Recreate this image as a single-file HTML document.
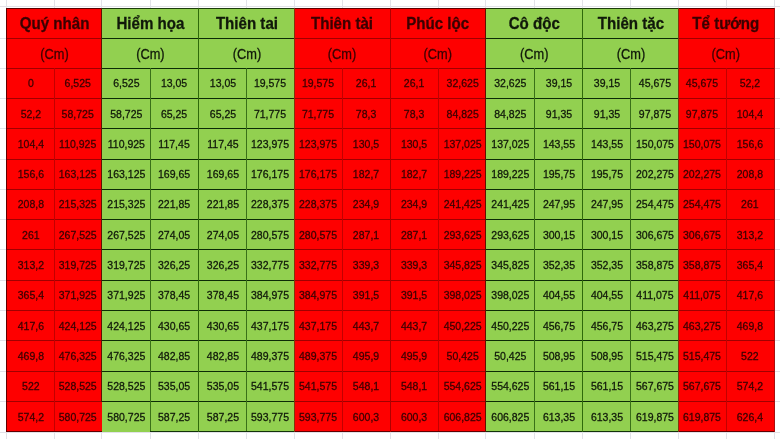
<!DOCTYPE html>
<html><head><meta charset="utf-8"><title>Bảng thước</title>
<style>
html,body{margin:0;padding:0;background:#fff;}
body{width:780px;height:439px;position:relative;overflow:hidden;font-family:"Liberation Sans",Arial,sans-serif;}
.bg{position:absolute;}
.r{background:#fe0000;}
.g{background:#92d050;}
.ln{position:absolute;}
.t{position:absolute;text-align:center;white-space:nowrap;transform:scaleX(0.915);-webkit-text-stroke:0.3px currentColor;}
.h{font-weight:bold;font-size:16.5px;line-height:30px;height:30px;}
.u{font-size:14px;line-height:30px;height:30px;}
.d{font-size:11.75px;line-height:30px;height:30px;transform:scaleX(0.895);}
.tr{color:#3a0000;}
.tg{color:#10180a;}
.gl{position:absolute;background:#e2e2e8;}
</style></head><body>

<div class="gl" style="left:6.00px;top:0;width:1px;height:439px"></div>
<div class="gl" style="left:53.80px;top:0;width:1px;height:439px"></div>
<div class="gl" style="left:101.20px;top:0;width:1px;height:439px"></div>
<div class="gl" style="left:149.90px;top:0;width:1px;height:439px"></div>
<div class="gl" style="left:198.00px;top:0;width:1px;height:439px"></div>
<div class="gl" style="left:245.90px;top:0;width:1px;height:439px"></div>
<div class="gl" style="left:293.90px;top:0;width:1px;height:439px"></div>
<div class="gl" style="left:341.90px;top:0;width:1px;height:439px"></div>
<div class="gl" style="left:389.95px;top:0;width:1px;height:439px"></div>
<div class="gl" style="left:438.10px;top:0;width:1px;height:439px"></div>
<div class="gl" style="left:485.40px;top:0;width:1px;height:439px"></div>
<div class="gl" style="left:534.00px;top:0;width:1px;height:439px"></div>
<div class="gl" style="left:582.00px;top:0;width:1px;height:439px"></div>
<div class="gl" style="left:630.00px;top:0;width:1px;height:439px"></div>
<div class="gl" style="left:677.90px;top:0;width:1px;height:439px"></div>
<div class="gl" style="left:725.80px;top:0;width:1px;height:439px"></div>
<div class="gl" style="left:773.60px;top:0;width:1px;height:439px"></div>
<div class="gl" style="left:0;top:5.5px;width:780px;height:1px"></div>
<div class="gl" style="left:0;top:37.70px;width:780px;height:1px"></div>
<div class="gl" style="left:0;top:67.60px;width:780px;height:1px"></div>
<div class="gl" style="left:0;top:97.91px;width:780px;height:1px"></div>
<div class="gl" style="left:0;top:128.22px;width:780px;height:1px"></div>
<div class="gl" style="left:0;top:158.53px;width:780px;height:1px"></div>
<div class="gl" style="left:0;top:188.84px;width:780px;height:1px"></div>
<div class="gl" style="left:0;top:219.15px;width:780px;height:1px"></div>
<div class="gl" style="left:0;top:249.46px;width:780px;height:1px"></div>
<div class="gl" style="left:0;top:279.77px;width:780px;height:1px"></div>
<div class="gl" style="left:0;top:310.08px;width:780px;height:1px"></div>
<div class="gl" style="left:0;top:340.39px;width:780px;height:1px"></div>
<div class="gl" style="left:0;top:370.70px;width:780px;height:1px"></div>
<div class="gl" style="left:0;top:401.01px;width:780px;height:1px"></div>
<div class="gl" style="left:0;top:431.50px;width:780px;height:1px"></div>
<div class="bg r" style="left:6.50px;top:7.90px;width:95.20px;height:423.90px"></div>
<div class="bg g" style="left:101.70px;top:7.90px;width:96.80px;height:423.90px"></div>
<div class="bg g" style="left:198.50px;top:7.90px;width:95.90px;height:423.90px"></div>
<div class="bg r" style="left:294.40px;top:7.90px;width:96.05px;height:423.90px"></div>
<div class="bg r" style="left:390.45px;top:7.90px;width:95.45px;height:423.90px"></div>
<div class="bg g" style="left:485.90px;top:7.90px;width:96.60px;height:423.90px"></div>
<div class="bg g" style="left:582.50px;top:7.90px;width:95.90px;height:423.90px"></div>
<div class="bg r" style="left:678.40px;top:7.90px;width:96.20px;height:423.90px"></div>
<div class="ln" style="left:6.50px;top:7.90px;width:95.20px;height:1px;background:#5a0000"></div>
<div class="ln" style="left:6.50px;top:37.70px;width:95.20px;height:1px;background:#a00000"></div>
<div class="ln" style="left:6.50px;top:67.60px;width:95.20px;height:1px;background:#a00000"></div>
<div class="ln" style="left:6.50px;top:97.91px;width:95.20px;height:1px;background:#a00000"></div>
<div class="ln" style="left:6.50px;top:128.22px;width:95.20px;height:1px;background:#a00000"></div>
<div class="ln" style="left:6.50px;top:158.53px;width:95.20px;height:1px;background:#a00000"></div>
<div class="ln" style="left:6.50px;top:188.84px;width:95.20px;height:1px;background:#a00000"></div>
<div class="ln" style="left:6.50px;top:219.15px;width:95.20px;height:1px;background:#a00000"></div>
<div class="ln" style="left:6.50px;top:249.46px;width:95.20px;height:1px;background:#a00000"></div>
<div class="ln" style="left:6.50px;top:279.77px;width:95.20px;height:1px;background:#a00000"></div>
<div class="ln" style="left:6.50px;top:310.08px;width:95.20px;height:1px;background:#a00000"></div>
<div class="ln" style="left:6.50px;top:340.39px;width:95.20px;height:1px;background:#a00000"></div>
<div class="ln" style="left:6.50px;top:370.70px;width:95.20px;height:1px;background:#a00000"></div>
<div class="ln" style="left:6.50px;top:401.01px;width:95.20px;height:1px;background:#a00000"></div>
<div class="ln" style="left:6.50px;top:430.70px;width:95.20px;height:1px;background:#600000"></div>
<div class="ln" style="left:101.70px;top:7.90px;width:96.80px;height:1px;background:#1c3c0c"></div>
<div class="ln" style="left:101.70px;top:37.70px;width:96.80px;height:1px;background:#0c2c06"></div>
<div class="ln" style="left:101.70px;top:67.60px;width:96.80px;height:1px;background:#0c2c06"></div>
<div class="ln" style="left:101.70px;top:97.91px;width:96.80px;height:1px;background:#0c2c06"></div>
<div class="ln" style="left:101.70px;top:128.22px;width:96.80px;height:1px;background:#0c2c06"></div>
<div class="ln" style="left:101.70px;top:158.53px;width:96.80px;height:1px;background:#0c2c06"></div>
<div class="ln" style="left:101.70px;top:188.84px;width:96.80px;height:1px;background:#0c2c06"></div>
<div class="ln" style="left:101.70px;top:219.15px;width:96.80px;height:1px;background:#0c2c06"></div>
<div class="ln" style="left:101.70px;top:249.46px;width:96.80px;height:1px;background:#0c2c06"></div>
<div class="ln" style="left:101.70px;top:279.77px;width:96.80px;height:1px;background:#0c2c06"></div>
<div class="ln" style="left:101.70px;top:310.08px;width:96.80px;height:1px;background:#0c2c06"></div>
<div class="ln" style="left:101.70px;top:340.39px;width:96.80px;height:1px;background:#0c2c06"></div>
<div class="ln" style="left:101.70px;top:370.70px;width:96.80px;height:1px;background:#0c2c06"></div>
<div class="ln" style="left:101.70px;top:401.01px;width:96.80px;height:1px;background:#0c2c06"></div>
<div class="ln" style="left:150.40px;top:430.70px;width:48.10px;height:1px;background:#12330a"></div>
<div class="ln" style="left:198.50px;top:7.90px;width:95.90px;height:1px;background:#1c3c0c"></div>
<div class="ln" style="left:198.50px;top:37.70px;width:95.90px;height:1px;background:#0c2c06"></div>
<div class="ln" style="left:198.50px;top:67.60px;width:95.90px;height:1px;background:#0c2c06"></div>
<div class="ln" style="left:198.50px;top:97.91px;width:95.90px;height:1px;background:#0c2c06"></div>
<div class="ln" style="left:198.50px;top:128.22px;width:95.90px;height:1px;background:#0c2c06"></div>
<div class="ln" style="left:198.50px;top:158.53px;width:95.90px;height:1px;background:#0c2c06"></div>
<div class="ln" style="left:198.50px;top:188.84px;width:95.90px;height:1px;background:#0c2c06"></div>
<div class="ln" style="left:198.50px;top:219.15px;width:95.90px;height:1px;background:#0c2c06"></div>
<div class="ln" style="left:198.50px;top:249.46px;width:95.90px;height:1px;background:#0c2c06"></div>
<div class="ln" style="left:198.50px;top:279.77px;width:95.90px;height:1px;background:#0c2c06"></div>
<div class="ln" style="left:198.50px;top:310.08px;width:95.90px;height:1px;background:#0c2c06"></div>
<div class="ln" style="left:198.50px;top:340.39px;width:95.90px;height:1px;background:#0c2c06"></div>
<div class="ln" style="left:198.50px;top:370.70px;width:95.90px;height:1px;background:#0c2c06"></div>
<div class="ln" style="left:198.50px;top:401.01px;width:95.90px;height:1px;background:#0c2c06"></div>
<div class="ln" style="left:198.50px;top:430.70px;width:95.90px;height:1px;background:#12330a"></div>
<div class="ln" style="left:294.40px;top:7.90px;width:96.05px;height:1px;background:#5a0000"></div>
<div class="ln" style="left:294.40px;top:37.70px;width:96.05px;height:1px;background:#a00000"></div>
<div class="ln" style="left:294.40px;top:67.60px;width:96.05px;height:1px;background:#a00000"></div>
<div class="ln" style="left:294.40px;top:97.91px;width:96.05px;height:1px;background:#a00000"></div>
<div class="ln" style="left:294.40px;top:128.22px;width:96.05px;height:1px;background:#a00000"></div>
<div class="ln" style="left:294.40px;top:158.53px;width:96.05px;height:1px;background:#a00000"></div>
<div class="ln" style="left:294.40px;top:188.84px;width:96.05px;height:1px;background:#a00000"></div>
<div class="ln" style="left:294.40px;top:219.15px;width:96.05px;height:1px;background:#a00000"></div>
<div class="ln" style="left:294.40px;top:249.46px;width:96.05px;height:1px;background:#a00000"></div>
<div class="ln" style="left:294.40px;top:279.77px;width:96.05px;height:1px;background:#a00000"></div>
<div class="ln" style="left:294.40px;top:310.08px;width:96.05px;height:1px;background:#a00000"></div>
<div class="ln" style="left:294.40px;top:340.39px;width:96.05px;height:1px;background:#a00000"></div>
<div class="ln" style="left:294.40px;top:370.70px;width:96.05px;height:1px;background:#a00000"></div>
<div class="ln" style="left:294.40px;top:401.01px;width:96.05px;height:1px;background:#a00000"></div>
<div class="ln" style="left:294.40px;top:430.70px;width:96.05px;height:1px;background:#600000"></div>
<div class="ln" style="left:390.45px;top:7.90px;width:95.45px;height:1px;background:#5a0000"></div>
<div class="ln" style="left:390.45px;top:37.70px;width:95.45px;height:1px;background:#a00000"></div>
<div class="ln" style="left:390.45px;top:67.60px;width:95.45px;height:1px;background:#a00000"></div>
<div class="ln" style="left:390.45px;top:97.91px;width:95.45px;height:1px;background:#a00000"></div>
<div class="ln" style="left:390.45px;top:128.22px;width:95.45px;height:1px;background:#a00000"></div>
<div class="ln" style="left:390.45px;top:158.53px;width:95.45px;height:1px;background:#a00000"></div>
<div class="ln" style="left:390.45px;top:188.84px;width:95.45px;height:1px;background:#a00000"></div>
<div class="ln" style="left:390.45px;top:219.15px;width:95.45px;height:1px;background:#a00000"></div>
<div class="ln" style="left:390.45px;top:249.46px;width:95.45px;height:1px;background:#a00000"></div>
<div class="ln" style="left:390.45px;top:279.77px;width:95.45px;height:1px;background:#a00000"></div>
<div class="ln" style="left:390.45px;top:310.08px;width:95.45px;height:1px;background:#a00000"></div>
<div class="ln" style="left:390.45px;top:340.39px;width:95.45px;height:1px;background:#a00000"></div>
<div class="ln" style="left:390.45px;top:370.70px;width:95.45px;height:1px;background:#a00000"></div>
<div class="ln" style="left:390.45px;top:401.01px;width:95.45px;height:1px;background:#a00000"></div>
<div class="ln" style="left:390.45px;top:430.70px;width:95.45px;height:1px;background:#600000"></div>
<div class="ln" style="left:485.90px;top:7.90px;width:96.60px;height:1px;background:#1c3c0c"></div>
<div class="ln" style="left:485.90px;top:37.70px;width:96.60px;height:1px;background:#0c2c06"></div>
<div class="ln" style="left:485.90px;top:67.60px;width:96.60px;height:1px;background:#0c2c06"></div>
<div class="ln" style="left:485.90px;top:97.91px;width:96.60px;height:1px;background:#0c2c06"></div>
<div class="ln" style="left:485.90px;top:128.22px;width:96.60px;height:1px;background:#0c2c06"></div>
<div class="ln" style="left:485.90px;top:158.53px;width:96.60px;height:1px;background:#0c2c06"></div>
<div class="ln" style="left:485.90px;top:188.84px;width:96.60px;height:1px;background:#0c2c06"></div>
<div class="ln" style="left:485.90px;top:219.15px;width:96.60px;height:1px;background:#0c2c06"></div>
<div class="ln" style="left:485.90px;top:249.46px;width:96.60px;height:1px;background:#0c2c06"></div>
<div class="ln" style="left:485.90px;top:279.77px;width:96.60px;height:1px;background:#0c2c06"></div>
<div class="ln" style="left:485.90px;top:310.08px;width:96.60px;height:1px;background:#0c2c06"></div>
<div class="ln" style="left:485.90px;top:340.39px;width:96.60px;height:1px;background:#0c2c06"></div>
<div class="ln" style="left:485.90px;top:370.70px;width:96.60px;height:1px;background:#0c2c06"></div>
<div class="ln" style="left:485.90px;top:401.01px;width:96.60px;height:1px;background:#0c2c06"></div>
<div class="ln" style="left:485.90px;top:430.70px;width:96.60px;height:1px;background:#12330a"></div>
<div class="ln" style="left:582.50px;top:7.90px;width:95.90px;height:1px;background:#1c3c0c"></div>
<div class="ln" style="left:582.50px;top:37.70px;width:95.90px;height:1px;background:#0c2c06"></div>
<div class="ln" style="left:582.50px;top:67.60px;width:95.90px;height:1px;background:#0c2c06"></div>
<div class="ln" style="left:582.50px;top:97.91px;width:95.90px;height:1px;background:#0c2c06"></div>
<div class="ln" style="left:582.50px;top:128.22px;width:95.90px;height:1px;background:#0c2c06"></div>
<div class="ln" style="left:582.50px;top:158.53px;width:95.90px;height:1px;background:#0c2c06"></div>
<div class="ln" style="left:582.50px;top:188.84px;width:95.90px;height:1px;background:#0c2c06"></div>
<div class="ln" style="left:582.50px;top:219.15px;width:95.90px;height:1px;background:#0c2c06"></div>
<div class="ln" style="left:582.50px;top:249.46px;width:95.90px;height:1px;background:#0c2c06"></div>
<div class="ln" style="left:582.50px;top:279.77px;width:95.90px;height:1px;background:#0c2c06"></div>
<div class="ln" style="left:582.50px;top:310.08px;width:95.90px;height:1px;background:#0c2c06"></div>
<div class="ln" style="left:582.50px;top:340.39px;width:95.90px;height:1px;background:#0c2c06"></div>
<div class="ln" style="left:582.50px;top:370.70px;width:95.90px;height:1px;background:#0c2c06"></div>
<div class="ln" style="left:582.50px;top:401.01px;width:95.90px;height:1px;background:#0c2c06"></div>
<div class="ln" style="left:582.50px;top:430.70px;width:95.90px;height:1px;background:#12330a"></div>
<div class="ln" style="left:678.40px;top:7.90px;width:95.70px;height:1px;background:#5a0000"></div>
<div class="ln" style="left:678.40px;top:37.70px;width:95.70px;height:1px;background:#a00000"></div>
<div class="ln" style="left:678.40px;top:67.60px;width:95.70px;height:1px;background:#a00000"></div>
<div class="ln" style="left:678.40px;top:97.91px;width:95.70px;height:1px;background:#a00000"></div>
<div class="ln" style="left:678.40px;top:128.22px;width:95.70px;height:1px;background:#a00000"></div>
<div class="ln" style="left:678.40px;top:158.53px;width:95.70px;height:1px;background:#a00000"></div>
<div class="ln" style="left:678.40px;top:188.84px;width:95.70px;height:1px;background:#a00000"></div>
<div class="ln" style="left:678.40px;top:219.15px;width:95.70px;height:1px;background:#a00000"></div>
<div class="ln" style="left:678.40px;top:249.46px;width:95.70px;height:1px;background:#a00000"></div>
<div class="ln" style="left:678.40px;top:279.77px;width:95.70px;height:1px;background:#a00000"></div>
<div class="ln" style="left:678.40px;top:310.08px;width:95.70px;height:1px;background:#a00000"></div>
<div class="ln" style="left:678.40px;top:340.39px;width:95.70px;height:1px;background:#a00000"></div>
<div class="ln" style="left:678.40px;top:370.70px;width:95.70px;height:1px;background:#a00000"></div>
<div class="ln" style="left:678.40px;top:401.01px;width:95.70px;height:1px;background:#a00000"></div>
<div class="ln" style="left:678.40px;top:430.70px;width:95.70px;height:1px;background:#600000"></div>
<div class="ln" style="left:6.00px;top:7.90px;width:1px;height:423.80px;background:#600000"></div>
<div class="ln" style="left:53.70px;top:68.1px;width:1.2px;height:363.10px;background:#c20000"></div>
<div class="ln" style="left:101.20px;top:7.90px;width:1px;height:394.11px;background:#601000"></div>
<div class="ln" style="left:149.80px;top:68.1px;width:1.2px;height:363.10px;background:#3a7018"></div>
<div class="ln" style="left:198.00px;top:7.90px;width:1px;height:423.80px;background:#2f6a0a"></div>
<div class="ln" style="left:245.80px;top:68.1px;width:1.2px;height:363.10px;background:#3a7018"></div>
<div class="ln" style="left:293.90px;top:7.90px;width:1px;height:423.80px;background:#80380c"></div>
<div class="ln" style="left:341.80px;top:68.1px;width:1.2px;height:363.10px;background:#c20000"></div>
<div class="ln" style="left:389.95px;top:7.90px;width:1px;height:423.80px;background:#b00000"></div>
<div class="ln" style="left:438.00px;top:68.1px;width:1.2px;height:363.10px;background:#c20000"></div>
<div class="ln" style="left:485.40px;top:7.90px;width:1px;height:423.80px;background:#601000"></div>
<div class="ln" style="left:533.90px;top:68.1px;width:1.2px;height:363.10px;background:#3a7018"></div>
<div class="ln" style="left:582.00px;top:7.90px;width:1px;height:423.80px;background:#2f6a0a"></div>
<div class="ln" style="left:629.90px;top:68.1px;width:1.2px;height:363.10px;background:#3a7018"></div>
<div class="ln" style="left:677.90px;top:7.90px;width:1px;height:423.80px;background:#80380c"></div>
<div class="ln" style="left:725.70px;top:68.1px;width:1.2px;height:363.10px;background:#c20000"></div>
<div class="ln" style="left:773.60px;top:7.90px;width:1px;height:423.80px;background:#a81010"></div>
<div class="t h tr" style="left:6.50px;top:8px;width:95.20px">Quý nhân</div>
<div class="t u tr" style="left:6.50px;top:39px;width:95.20px">(Cm)</div>
<div class="t d tr" style="left:6.50px;top:68px;width:47.80px">0</div>
<div class="t d tr" style="left:54.30px;top:68px;width:47.40px">6,525</div>
<div class="t d tr" style="left:6.50px;top:99px;width:47.80px">52,2</div>
<div class="t d tr" style="left:54.30px;top:99px;width:47.40px">58,725</div>
<div class="t d tr" style="left:6.50px;top:129px;width:47.80px">104,4</div>
<div class="t d tr" style="left:54.30px;top:129px;width:47.40px">110,925</div>
<div class="t d tr" style="left:6.50px;top:159px;width:47.80px">156,6</div>
<div class="t d tr" style="left:54.30px;top:159px;width:47.40px">163,125</div>
<div class="t d tr" style="left:6.50px;top:189px;width:47.80px">208,8</div>
<div class="t d tr" style="left:54.30px;top:189px;width:47.40px">215,325</div>
<div class="t d tr" style="left:6.50px;top:220px;width:47.80px">261</div>
<div class="t d tr" style="left:54.30px;top:220px;width:47.40px">267,525</div>
<div class="t d tr" style="left:6.50px;top:250px;width:47.80px">313,2</div>
<div class="t d tr" style="left:54.30px;top:250px;width:47.40px">319,725</div>
<div class="t d tr" style="left:6.50px;top:280px;width:47.80px">365,4</div>
<div class="t d tr" style="left:54.30px;top:280px;width:47.40px">371,925</div>
<div class="t d tr" style="left:6.50px;top:311px;width:47.80px">417,6</div>
<div class="t d tr" style="left:54.30px;top:311px;width:47.40px">424,125</div>
<div class="t d tr" style="left:6.50px;top:341px;width:47.80px">469,8</div>
<div class="t d tr" style="left:54.30px;top:341px;width:47.40px">476,325</div>
<div class="t d tr" style="left:6.50px;top:371px;width:47.80px">522</div>
<div class="t d tr" style="left:54.30px;top:371px;width:47.40px">528,525</div>
<div class="t d tr" style="left:6.50px;top:402px;width:47.80px">574,2</div>
<div class="t d tr" style="left:54.30px;top:402px;width:47.40px">580,725</div>
<div class="t h tg" style="left:101.70px;top:8px;width:96.80px">Hiểm họa</div>
<div class="t u tg" style="left:101.70px;top:39px;width:96.80px">(Cm)</div>
<div class="t d tg" style="left:101.70px;top:68px;width:48.70px">6,525</div>
<div class="t d tg" style="left:150.40px;top:68px;width:48.10px">13,05</div>
<div class="t d tg" style="left:101.70px;top:99px;width:48.70px">58,725</div>
<div class="t d tg" style="left:150.40px;top:99px;width:48.10px">65,25</div>
<div class="t d tg" style="left:101.70px;top:129px;width:48.70px">110,925</div>
<div class="t d tg" style="left:150.40px;top:129px;width:48.10px">117,45</div>
<div class="t d tg" style="left:101.70px;top:159px;width:48.70px">163,125</div>
<div class="t d tg" style="left:150.40px;top:159px;width:48.10px">169,65</div>
<div class="t d tg" style="left:101.70px;top:189px;width:48.70px">215,325</div>
<div class="t d tg" style="left:150.40px;top:189px;width:48.10px">221,85</div>
<div class="t d tg" style="left:101.70px;top:220px;width:48.70px">267,525</div>
<div class="t d tg" style="left:150.40px;top:220px;width:48.10px">274,05</div>
<div class="t d tg" style="left:101.70px;top:250px;width:48.70px">319,725</div>
<div class="t d tg" style="left:150.40px;top:250px;width:48.10px">326,25</div>
<div class="t d tg" style="left:101.70px;top:280px;width:48.70px">371,925</div>
<div class="t d tg" style="left:150.40px;top:280px;width:48.10px">378,45</div>
<div class="t d tg" style="left:101.70px;top:311px;width:48.70px">424,125</div>
<div class="t d tg" style="left:150.40px;top:311px;width:48.10px">430,65</div>
<div class="t d tg" style="left:101.70px;top:341px;width:48.70px">476,325</div>
<div class="t d tg" style="left:150.40px;top:341px;width:48.10px">482,85</div>
<div class="t d tg" style="left:101.70px;top:371px;width:48.70px">528,525</div>
<div class="t d tg" style="left:150.40px;top:371px;width:48.10px">535,05</div>
<div class="t d tg" style="left:101.70px;top:402px;width:48.70px">580,725</div>
<div class="t d tg" style="left:150.40px;top:402px;width:48.10px">587,25</div>
<div class="t h tg" style="left:198.50px;top:8px;width:95.90px">Thiên tai</div>
<div class="t u tg" style="left:198.50px;top:39px;width:95.90px">(Cm)</div>
<div class="t d tg" style="left:198.50px;top:68px;width:47.90px">13,05</div>
<div class="t d tg" style="left:246.40px;top:68px;width:48.00px">19,575</div>
<div class="t d tg" style="left:198.50px;top:99px;width:47.90px">65,25</div>
<div class="t d tg" style="left:246.40px;top:99px;width:48.00px">71,775</div>
<div class="t d tg" style="left:198.50px;top:129px;width:47.90px">117,45</div>
<div class="t d tg" style="left:246.40px;top:129px;width:48.00px">123,975</div>
<div class="t d tg" style="left:198.50px;top:159px;width:47.90px">169,65</div>
<div class="t d tg" style="left:246.40px;top:159px;width:48.00px">176,175</div>
<div class="t d tg" style="left:198.50px;top:189px;width:47.90px">221,85</div>
<div class="t d tg" style="left:246.40px;top:189px;width:48.00px">228,375</div>
<div class="t d tg" style="left:198.50px;top:220px;width:47.90px">274,05</div>
<div class="t d tg" style="left:246.40px;top:220px;width:48.00px">280,575</div>
<div class="t d tg" style="left:198.50px;top:250px;width:47.90px">326,25</div>
<div class="t d tg" style="left:246.40px;top:250px;width:48.00px">332,775</div>
<div class="t d tg" style="left:198.50px;top:280px;width:47.90px">378,45</div>
<div class="t d tg" style="left:246.40px;top:280px;width:48.00px">384,975</div>
<div class="t d tg" style="left:198.50px;top:311px;width:47.90px">430,65</div>
<div class="t d tg" style="left:246.40px;top:311px;width:48.00px">437,175</div>
<div class="t d tg" style="left:198.50px;top:341px;width:47.90px">482,85</div>
<div class="t d tg" style="left:246.40px;top:341px;width:48.00px">489,375</div>
<div class="t d tg" style="left:198.50px;top:371px;width:47.90px">535,05</div>
<div class="t d tg" style="left:246.40px;top:371px;width:48.00px">541,575</div>
<div class="t d tg" style="left:198.50px;top:402px;width:47.90px">587,25</div>
<div class="t d tg" style="left:246.40px;top:402px;width:48.00px">593,775</div>
<div class="t h tr" style="left:294.40px;top:8px;width:96.05px">Thiên tài</div>
<div class="t u tr" style="left:294.40px;top:39px;width:96.05px">(Cm)</div>
<div class="t d tr" style="left:294.40px;top:68px;width:48.00px">19,575</div>
<div class="t d tr" style="left:342.40px;top:68px;width:48.05px">26,1</div>
<div class="t d tr" style="left:294.40px;top:99px;width:48.00px">71,775</div>
<div class="t d tr" style="left:342.40px;top:99px;width:48.05px">78,3</div>
<div class="t d tr" style="left:294.40px;top:129px;width:48.00px">123,975</div>
<div class="t d tr" style="left:342.40px;top:129px;width:48.05px">130,5</div>
<div class="t d tr" style="left:294.40px;top:159px;width:48.00px">176,175</div>
<div class="t d tr" style="left:342.40px;top:159px;width:48.05px">182,7</div>
<div class="t d tr" style="left:294.40px;top:189px;width:48.00px">228,375</div>
<div class="t d tr" style="left:342.40px;top:189px;width:48.05px">234,9</div>
<div class="t d tr" style="left:294.40px;top:220px;width:48.00px">280,575</div>
<div class="t d tr" style="left:342.40px;top:220px;width:48.05px">287,1</div>
<div class="t d tr" style="left:294.40px;top:250px;width:48.00px">332,775</div>
<div class="t d tr" style="left:342.40px;top:250px;width:48.05px">339,3</div>
<div class="t d tr" style="left:294.40px;top:280px;width:48.00px">384,975</div>
<div class="t d tr" style="left:342.40px;top:280px;width:48.05px">391,5</div>
<div class="t d tr" style="left:294.40px;top:311px;width:48.00px">437,175</div>
<div class="t d tr" style="left:342.40px;top:311px;width:48.05px">443,7</div>
<div class="t d tr" style="left:294.40px;top:341px;width:48.00px">489,375</div>
<div class="t d tr" style="left:342.40px;top:341px;width:48.05px">495,9</div>
<div class="t d tr" style="left:294.40px;top:371px;width:48.00px">541,575</div>
<div class="t d tr" style="left:342.40px;top:371px;width:48.05px">548,1</div>
<div class="t d tr" style="left:294.40px;top:402px;width:48.00px">593,775</div>
<div class="t d tr" style="left:342.40px;top:402px;width:48.05px">600,3</div>
<div class="t h tr" style="left:390.45px;top:8px;width:95.45px">Phúc lộc</div>
<div class="t u tr" style="left:390.45px;top:39px;width:95.45px">(Cm)</div>
<div class="t d tr" style="left:390.45px;top:68px;width:48.15px">26,1</div>
<div class="t d tr" style="left:438.60px;top:68px;width:47.30px">32,625</div>
<div class="t d tr" style="left:390.45px;top:99px;width:48.15px">78,3</div>
<div class="t d tr" style="left:438.60px;top:99px;width:47.30px">84,825</div>
<div class="t d tr" style="left:390.45px;top:129px;width:48.15px">130,5</div>
<div class="t d tr" style="left:438.60px;top:129px;width:47.30px">137,025</div>
<div class="t d tr" style="left:390.45px;top:159px;width:48.15px">182,7</div>
<div class="t d tr" style="left:438.60px;top:159px;width:47.30px">189,225</div>
<div class="t d tr" style="left:390.45px;top:189px;width:48.15px">234,9</div>
<div class="t d tr" style="left:438.60px;top:189px;width:47.30px">241,425</div>
<div class="t d tr" style="left:390.45px;top:220px;width:48.15px">287,1</div>
<div class="t d tr" style="left:438.60px;top:220px;width:47.30px">293,625</div>
<div class="t d tr" style="left:390.45px;top:250px;width:48.15px">339,3</div>
<div class="t d tr" style="left:438.60px;top:250px;width:47.30px">345,825</div>
<div class="t d tr" style="left:390.45px;top:280px;width:48.15px">391,5</div>
<div class="t d tr" style="left:438.60px;top:280px;width:47.30px">398,025</div>
<div class="t d tr" style="left:390.45px;top:311px;width:48.15px">443,7</div>
<div class="t d tr" style="left:438.60px;top:311px;width:47.30px">450,225</div>
<div class="t d tr" style="left:390.45px;top:341px;width:48.15px">495,9</div>
<div class="t d tr" style="left:438.60px;top:341px;width:47.30px">50,425</div>
<div class="t d tr" style="left:390.45px;top:371px;width:48.15px">548,1</div>
<div class="t d tr" style="left:438.60px;top:371px;width:47.30px">554,625</div>
<div class="t d tr" style="left:390.45px;top:402px;width:48.15px">600,3</div>
<div class="t d tr" style="left:438.60px;top:402px;width:47.30px">606,825</div>
<div class="t h tg" style="left:485.90px;top:8px;width:96.60px">Cô độc</div>
<div class="t u tg" style="left:485.90px;top:39px;width:96.60px">(Cm)</div>
<div class="t d tg" style="left:485.90px;top:68px;width:48.60px">32,625</div>
<div class="t d tg" style="left:534.50px;top:68px;width:48.00px">39,15</div>
<div class="t d tg" style="left:485.90px;top:99px;width:48.60px">84,825</div>
<div class="t d tg" style="left:534.50px;top:99px;width:48.00px">91,35</div>
<div class="t d tg" style="left:485.90px;top:129px;width:48.60px">137,025</div>
<div class="t d tg" style="left:534.50px;top:129px;width:48.00px">143,55</div>
<div class="t d tg" style="left:485.90px;top:159px;width:48.60px">189,225</div>
<div class="t d tg" style="left:534.50px;top:159px;width:48.00px">195,75</div>
<div class="t d tg" style="left:485.90px;top:189px;width:48.60px">241,425</div>
<div class="t d tg" style="left:534.50px;top:189px;width:48.00px">247,95</div>
<div class="t d tg" style="left:485.90px;top:220px;width:48.60px">293,625</div>
<div class="t d tg" style="left:534.50px;top:220px;width:48.00px">300,15</div>
<div class="t d tg" style="left:485.90px;top:250px;width:48.60px">345,825</div>
<div class="t d tg" style="left:534.50px;top:250px;width:48.00px">352,35</div>
<div class="t d tg" style="left:485.90px;top:280px;width:48.60px">398,025</div>
<div class="t d tg" style="left:534.50px;top:280px;width:48.00px">404,55</div>
<div class="t d tg" style="left:485.90px;top:311px;width:48.60px">450,225</div>
<div class="t d tg" style="left:534.50px;top:311px;width:48.00px">456,75</div>
<div class="t d tg" style="left:485.90px;top:341px;width:48.60px">50,425</div>
<div class="t d tg" style="left:534.50px;top:341px;width:48.00px">508,95</div>
<div class="t d tg" style="left:485.90px;top:371px;width:48.60px">554,625</div>
<div class="t d tg" style="left:534.50px;top:371px;width:48.00px">561,15</div>
<div class="t d tg" style="left:485.90px;top:402px;width:48.60px">606,825</div>
<div class="t d tg" style="left:534.50px;top:402px;width:48.00px">613,35</div>
<div class="t h tg" style="left:582.50px;top:8px;width:95.90px">Thiên tặc</div>
<div class="t u tg" style="left:582.50px;top:39px;width:95.90px">(Cm)</div>
<div class="t d tg" style="left:582.50px;top:68px;width:48.00px">39,15</div>
<div class="t d tg" style="left:630.50px;top:68px;width:47.90px">45,675</div>
<div class="t d tg" style="left:582.50px;top:99px;width:48.00px">91,35</div>
<div class="t d tg" style="left:630.50px;top:99px;width:47.90px">97,875</div>
<div class="t d tg" style="left:582.50px;top:129px;width:48.00px">143,55</div>
<div class="t d tg" style="left:630.50px;top:129px;width:47.90px">150,075</div>
<div class="t d tg" style="left:582.50px;top:159px;width:48.00px">195,75</div>
<div class="t d tg" style="left:630.50px;top:159px;width:47.90px">202,275</div>
<div class="t d tg" style="left:582.50px;top:189px;width:48.00px">247,95</div>
<div class="t d tg" style="left:630.50px;top:189px;width:47.90px">254,475</div>
<div class="t d tg" style="left:582.50px;top:220px;width:48.00px">300,15</div>
<div class="t d tg" style="left:630.50px;top:220px;width:47.90px">306,675</div>
<div class="t d tg" style="left:582.50px;top:250px;width:48.00px">352,35</div>
<div class="t d tg" style="left:630.50px;top:250px;width:47.90px">358,875</div>
<div class="t d tg" style="left:582.50px;top:280px;width:48.00px">404,55</div>
<div class="t d tg" style="left:630.50px;top:280px;width:47.90px">411,075</div>
<div class="t d tg" style="left:582.50px;top:311px;width:48.00px">456,75</div>
<div class="t d tg" style="left:630.50px;top:311px;width:47.90px">463,275</div>
<div class="t d tg" style="left:582.50px;top:341px;width:48.00px">508,95</div>
<div class="t d tg" style="left:630.50px;top:341px;width:47.90px">515,475</div>
<div class="t d tg" style="left:582.50px;top:371px;width:48.00px">561,15</div>
<div class="t d tg" style="left:630.50px;top:371px;width:47.90px">567,675</div>
<div class="t d tg" style="left:582.50px;top:402px;width:48.00px">613,35</div>
<div class="t d tg" style="left:630.50px;top:402px;width:47.90px">619,875</div>
<div class="t h tr" style="left:678.40px;top:8px;width:95.70px">Tể tướng</div>
<div class="t u tr" style="left:678.40px;top:39px;width:95.70px">(Cm)</div>
<div class="t d tr" style="left:678.40px;top:68px;width:47.90px">45,675</div>
<div class="t d tr" style="left:726.30px;top:68px;width:47.80px">52,2</div>
<div class="t d tr" style="left:678.40px;top:99px;width:47.90px">97,875</div>
<div class="t d tr" style="left:726.30px;top:99px;width:47.80px">104,4</div>
<div class="t d tr" style="left:678.40px;top:129px;width:47.90px">150,075</div>
<div class="t d tr" style="left:726.30px;top:129px;width:47.80px">156,6</div>
<div class="t d tr" style="left:678.40px;top:159px;width:47.90px">202,275</div>
<div class="t d tr" style="left:726.30px;top:159px;width:47.80px">208,8</div>
<div class="t d tr" style="left:678.40px;top:189px;width:47.90px">254,475</div>
<div class="t d tr" style="left:726.30px;top:189px;width:47.80px">261</div>
<div class="t d tr" style="left:678.40px;top:220px;width:47.90px">306,675</div>
<div class="t d tr" style="left:726.30px;top:220px;width:47.80px">313,2</div>
<div class="t d tr" style="left:678.40px;top:250px;width:47.90px">358,875</div>
<div class="t d tr" style="left:726.30px;top:250px;width:47.80px">365,4</div>
<div class="t d tr" style="left:678.40px;top:280px;width:47.90px">411,075</div>
<div class="t d tr" style="left:726.30px;top:280px;width:47.80px">417,6</div>
<div class="t d tr" style="left:678.40px;top:311px;width:47.90px">463,275</div>
<div class="t d tr" style="left:726.30px;top:311px;width:47.80px">469,8</div>
<div class="t d tr" style="left:678.40px;top:341px;width:47.90px">515,475</div>
<div class="t d tr" style="left:726.30px;top:341px;width:47.80px">522</div>
<div class="t d tr" style="left:678.40px;top:371px;width:47.90px">567,675</div>
<div class="t d tr" style="left:726.30px;top:371px;width:47.80px">574,2</div>
<div class="t d tr" style="left:678.40px;top:402px;width:47.90px">619,875</div>
<div class="t d tr" style="left:726.30px;top:402px;width:47.80px">626,4</div>
</body></html>
